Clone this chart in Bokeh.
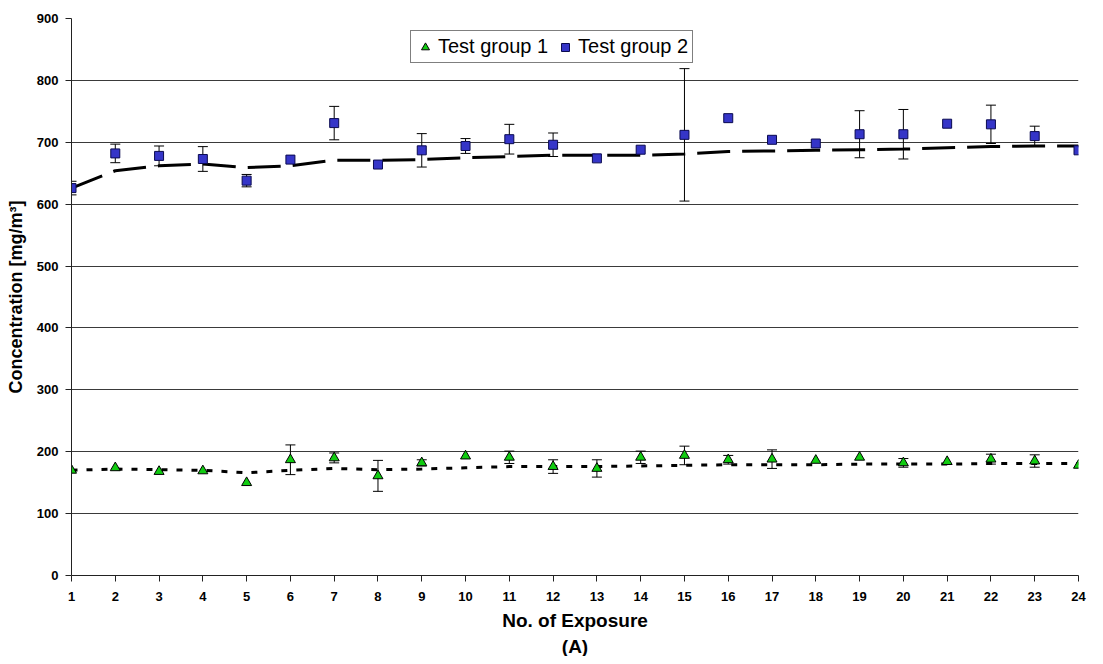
from bokeh.plotting import figure
from bokeh.models import FixedTicker, Legend, LegendItem, Title, Range1d
from bokeh.embed import file_html
from bokeh.resources import INLINE

# ---- data ----
exposure = [1, 2, 3, 4, 5, 6, 7, 8, 9, 10, 11, 12, 13, 14, 15, 16, 17, 18, 19, 20, 21, 22, 23, 24]

g1_mean = [170, 174, 168, 169, 150, 187, 190, 161, 182, 193, 191, 176,
           173, 191, 194, 187, 188, 186, 191, 182, 184, 188, 185, 178]
g1_err = [0, 0, 0, 0, 0, 24, 8, 25, 5, 0, 10, 11,
          14, 10, 15, 7, 15, 0, 0, 7, 0, 8, 10, 0]
g1_trend = [170, 172, 171, 170, 166, 170, 173, 171, 172, 174, 176, 176,
            176, 177, 178, 179, 179, 179, 180, 180, 180, 181, 181, 181]

g2_mean = [626, 682, 678, 673, 638, 672, 731, 664, 687, 694, 705, 696,
           674, 688, 712, 739, 704, 698, 713, 713, 730, 729, 710, 687]
g2_err = [11, 15, 16, 20, 10, 0, 27, 0, 27, 12, 24, 19,
          0, 0, 107, 0, 0, 0, 38, 40, 0, 31, 16, 0]
g2_trend = [626, 654, 662, 665, 659, 662, 671, 671, 672, 675, 677, 679,
            679, 679, 681, 685, 686, 687, 688, 689, 691, 693, 694, 694]

y_ticks = [0, 100, 200, 300, 400, 500, 600, 700, 800, 900]

FONT = "Liberation Sans"

p = figure(width=1087, height=656, output_backend="svg", toolbar_location=None,
           x_range=Range1d(1, 24), y_range=Range1d(0, 900),
           min_border_left=71, min_border_right=9, min_border_top=18, min_border_bottom=80)
p.outline_line_color = None
p.background_fill_color = "white"
p.border_fill_color = "white"

p.xgrid.grid_line_color = None
p.ygrid.grid_line_color = "#3a3a3a"
p.ygrid.grid_line_width = 1
p.ygrid.ticker = FixedTicker(ticks=y_ticks)

# axes
p.xaxis.ticker = FixedTicker(ticks=exposure)
p.yaxis.ticker = FixedTicker(ticks=y_ticks)
for ax in (p.xaxis[0], p.yaxis[0]):
    ax.axis_line_color = "#222222"
    ax.axis_line_width = 1
    ax.major_tick_line_color = "#222222"
    ax.major_tick_in = 0
    ax.major_tick_out = 6
    ax.minor_tick_line_color = None
    ax.major_label_text_font = FONT
    ax.major_label_text_font_style = "bold"
    ax.major_label_text_font_size = "13px"
    ax.major_label_text_color = "black"
    ax.axis_label_text_font = FONT
    ax.axis_label_text_font_style = "bold"
    ax.axis_label_text_color = "black"

p.xaxis.major_label_standoff = 10
p.yaxis.major_label_standoff = 7
p.xaxis.axis_label = "No. of Exposure"
p.xaxis.axis_label_text_font_size = "19px"
p.xaxis.axis_label_standoff = 6
p.yaxis.axis_label = "Concentration [mg/m³]"
p.yaxis.axis_label_text_font_size = "18px"
p.yaxis.axis_label_standoff = 8

p.add_layout(Title(text="(A)", align="center", text_font=FONT, text_font_style="bold",
                   text_font_size="19px", text_color="black", standoff=0, offset=0), "below")

# error bars
def error_bars(means, errs):
    xs = [x for x, e in zip(exposure, errs) if e > 0]
    lo = [m - e for m, e in zip(means, errs) if e > 0]
    hi = [m + e for m, e in zip(means, errs) if e > 0]
    p.segment(x0=xs, y0=lo, x1=xs, y1=hi, line_color="black", line_width=1)
    p.scatter(x=xs + xs, y=lo + hi, marker="dash", size=10, line_color="black", line_width=1)

error_bars(g2_mean, g2_err)
error_bars(g1_mean, g1_err)

# trend lines
p.line(exposure, g2_trend, line_color="black", line_width=3, line_dash="33 12")
p.line(exposure, g1_trend, line_color="black", line_width=3, line_dash="6 9")

# markers
r1 = p.scatter(exposure, g1_mean, marker="triangle", size=10,
               fill_color="#11cc11", line_color="black", line_width=1)
r2 = p.scatter(exposure, g2_mean, marker="square", size=9,
               fill_color="#3535c8", line_color="#0a0a50", line_width=1)

legend = Legend(items=[LegendItem(label="Test group 1", renderers=[r1]),
                       LegendItem(label="Test group 2", renderers=[r2])],
                orientation="horizontal", location=(339, 512),
                label_text_font=FONT, label_text_font_size="20px", label_text_color="black",
                glyph_width=20, glyph_height=20, label_height=18, label_standoff=3, spacing=7,
                padding=4, margin=0, border_line_color="black", border_line_width=1,
                background_fill_color="white", background_fill_alpha=1)
p.add_layout(legend)

open("out.html", "w").write(file_html(p, INLINE))
